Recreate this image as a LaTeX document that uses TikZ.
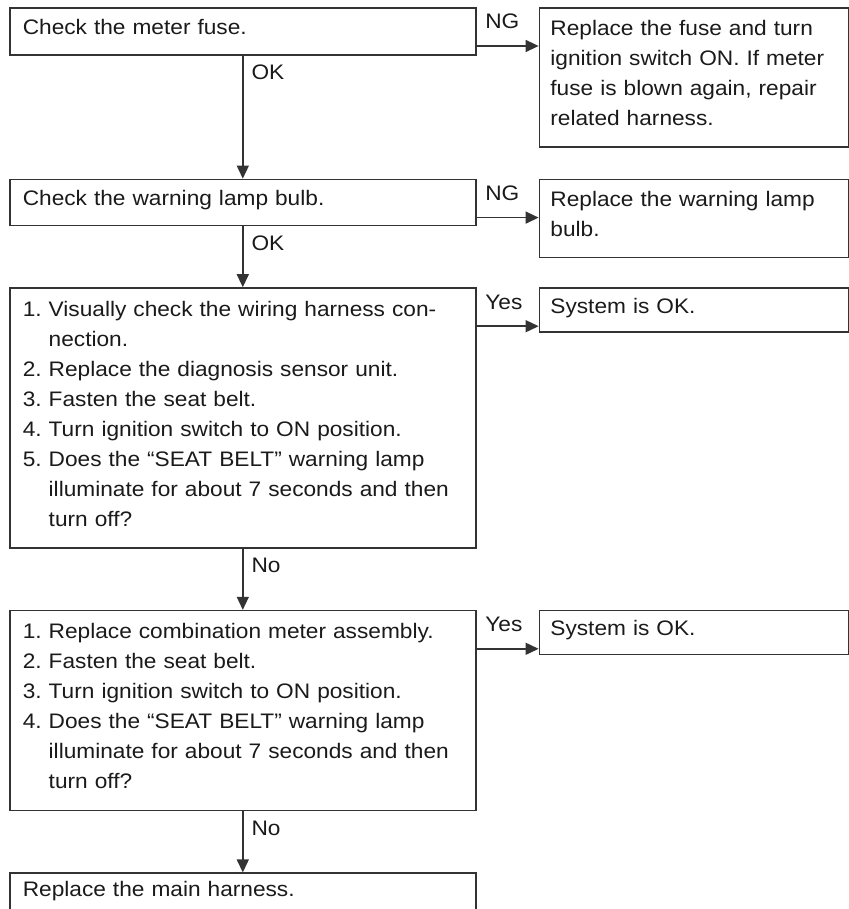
\documentclass[tikz,border=0pt]{standalone}
\usepackage{fontspec}
\setmainfont{Liberation Sans}[FakeStretch=1.08]
\usetikzlibrary{arrows.meta,positioning}
\definecolor{fcline}{HTML}{333333}
\definecolor{fctext}{HTML}{1A1A1A}
\newcommand{\firstln}{\rule{0pt}{18pt}}
\newcommand{\lastln}{\rule[-12pt]{0pt}{12pt}}
\newcommand{\itemgap}{\hphantom{1.\ }}

\begin{document}
\begin{tikzpicture}[x=1pt,y=1pt,
  font=\fontsize{21}{30}\selectfont,
  box/.style={draw=fcline,line width=1.6pt,align=left,inner xsep=13pt,inner ysep=0pt,text=fctext,
    execute at begin node=\firstln,execute at end node=\lastln},
  stepl/.style={box,text width=440pt},
  stepr/.style={box,inner xsep=11pt,text width=287pt},
  lbl/.style={inner sep=0pt,text=fctext,anchor=base west},
  flow/.style={draw=fcline,line width=1.5pt,->},
  >={Triangle[length=13pt,width=12pt]}]
\useasboundingbox (0,0) rectangle (848,-909);
\node[stepl,minimum height=47pt,anchor=north west] (fuse) at (9,-7) {Check the meter fuse.};
\node[stepr,minimum height=139pt,right=62pt of fuse.north east,anchor=north west] (fusefix)
  {Replace the fuse and turn\\ignition switch ON. If meter\\fuse is blown again, repair\\related harness.};
\node[stepl,minimum height=46pt,below=123pt of fuse.south west,anchor=north west] (bulb) {Check the warning lamp bulb.};
\node[stepr,minimum height=78pt,right=62pt of bulb.north east,anchor=north west] (bulbfix)
  {Replace the warning lamp\\bulb.};
\node[stepl,minimum height=260pt,below=61pt of bulb.south west,anchor=north west] (harn)
  {1.\ Visually check the wiring harness con-\\\itemgap nection.\\2.\ Replace the diagnosis sensor unit.\\3.\ Fasten the seat belt.\\4.\ Turn ignition switch to ON position.\\5.\ Does the ``SEAT BELT'' warning lamp\\\itemgap illuminate for about 7 seconds and then\\\itemgap turn off?};
\node[stepr,minimum height=44pt,right=62pt of harn.north east,anchor=north west] (harnok) {System is OK.};
\node[stepl,minimum height=200pt,below=61pt of harn.south west,anchor=north west] (meter)
  {1.\ Replace combination meter assembly.\\2.\ Fasten the seat belt.\\3.\ Turn ignition switch to ON position.\\4.\ Does the ``SEAT BELT'' warning lamp\\\itemgap illuminate for about 7 seconds and then\\\itemgap turn off?};
\node[stepr,minimum height=44pt,right=62pt of meter.north east,anchor=north west] (meterok) {System is OK.};
\node[stepl,minimum height=41pt,below=61pt of meter.south west,anchor=north west] (mainh) {Replace the main harness.};
% NG / Yes branches
\draw[flow] ([yshift=-39pt]fuse.north east) -- node[lbl,pos=0,xshift=8pt,yshift=17pt] (ng1) {NG} ([yshift=-39pt]fusefix.north west);
\draw[flow] ([yshift=-39pt]bulb.north east) -- node[lbl,pos=0,xshift=8pt,yshift=17pt] (ng2) {NG} ([yshift=-39pt]bulbfix.north west);
\draw[flow] ([yshift=-39pt]harn.north east) -- node[lbl,pos=0,xshift=8pt,yshift=17pt] (yes1) {Yes} ([yshift=-39pt]harnok.north west);
\draw[flow] ([yshift=-39pt]meter.north east) -- node[lbl,pos=0,xshift=8pt,yshift=17pt] (yes2) {Yes} ([yshift=-39pt]meterok.north west);
% OK / No path
\draw[flow] (fuse) -- node[lbl,pos=0,xshift=8pt,yshift=-24pt] (ok1) {OK} (bulb);
\draw[flow] (bulb) -- node[lbl,pos=0,xshift=8pt,yshift=-24pt] (ok2) {OK} (harn);
\draw[flow] (harn) -- node[lbl,pos=0,xshift=8pt,yshift=-24pt] (no1) {No} (meter);
\draw[flow] (meter) -- node[lbl,pos=0,xshift=8pt,yshift=-24pt] (no2) {No} (mainh);
\end{tikzpicture}
\end{document}
